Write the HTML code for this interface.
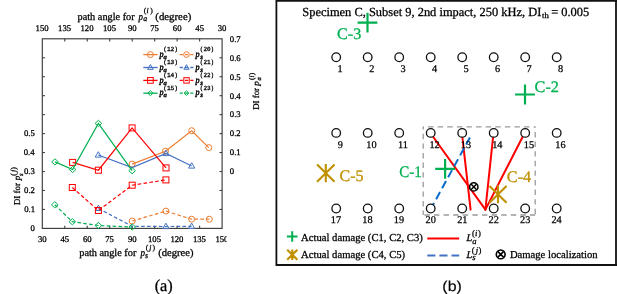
<!DOCTYPE html>
<html><head><meta charset="utf-8"><style>
html,body{margin:0;padding:0;background:#fff;}
svg{display:block;will-change:transform;}
text{stroke:#000;stroke-width:0.28px;}
text.g{stroke:#00B050;}
text.y{stroke:#BF9000;}
text.n{stroke-width:0.25px;}
text.nb{stroke-width:0.15px;}
text.lg{stroke-width:0.45px;}
</style></head><body>
<svg width="617" height="294" viewBox="0 0 617 294" text-rendering="geometricPrecision">
<rect width="617" height="294" fill="#fff"/>
<rect x="42.3" y="38.8" width="179.80" height="189.60" fill="none" stroke="#3c3c3c" stroke-width="1.15"/>
<line x1="64.78" y1="228.4" x2="64.78" y2="225.8" stroke="#3c3c3c" stroke-width="1.1"/>
<line x1="64.78" y1="38.8" x2="64.78" y2="41.4" stroke="#3c3c3c" stroke-width="1.1"/>
<line x1="87.25" y1="228.4" x2="87.25" y2="225.8" stroke="#3c3c3c" stroke-width="1.1"/>
<line x1="87.25" y1="38.8" x2="87.25" y2="41.4" stroke="#3c3c3c" stroke-width="1.1"/>
<line x1="109.73" y1="228.4" x2="109.73" y2="225.8" stroke="#3c3c3c" stroke-width="1.1"/>
<line x1="109.73" y1="38.8" x2="109.73" y2="41.4" stroke="#3c3c3c" stroke-width="1.1"/>
<line x1="132.20" y1="228.4" x2="132.20" y2="225.8" stroke="#3c3c3c" stroke-width="1.1"/>
<line x1="132.20" y1="38.8" x2="132.20" y2="41.4" stroke="#3c3c3c" stroke-width="1.1"/>
<line x1="154.68" y1="228.4" x2="154.68" y2="225.8" stroke="#3c3c3c" stroke-width="1.1"/>
<line x1="154.68" y1="38.8" x2="154.68" y2="41.4" stroke="#3c3c3c" stroke-width="1.1"/>
<line x1="177.15" y1="228.4" x2="177.15" y2="225.8" stroke="#3c3c3c" stroke-width="1.1"/>
<line x1="177.15" y1="38.8" x2="177.15" y2="41.4" stroke="#3c3c3c" stroke-width="1.1"/>
<line x1="199.62" y1="228.4" x2="199.62" y2="225.8" stroke="#3c3c3c" stroke-width="1.1"/>
<line x1="199.62" y1="38.8" x2="199.62" y2="41.4" stroke="#3c3c3c" stroke-width="1.1"/>
<line x1="42.3" y1="209.44" x2="44.9" y2="209.44" stroke="#3c3c3c" stroke-width="1.1"/>
<line x1="222.1" y1="209.44" x2="219.5" y2="209.44" stroke="#3c3c3c" stroke-width="1.1"/>
<line x1="42.3" y1="190.48" x2="44.9" y2="190.48" stroke="#3c3c3c" stroke-width="1.1"/>
<line x1="222.1" y1="190.48" x2="219.5" y2="190.48" stroke="#3c3c3c" stroke-width="1.1"/>
<line x1="42.3" y1="171.52" x2="44.9" y2="171.52" stroke="#3c3c3c" stroke-width="1.1"/>
<line x1="222.1" y1="171.52" x2="219.5" y2="171.52" stroke="#3c3c3c" stroke-width="1.1"/>
<line x1="42.3" y1="152.56" x2="44.9" y2="152.56" stroke="#3c3c3c" stroke-width="1.1"/>
<line x1="222.1" y1="152.56" x2="219.5" y2="152.56" stroke="#3c3c3c" stroke-width="1.1"/>
<line x1="42.3" y1="133.60" x2="44.9" y2="133.60" stroke="#3c3c3c" stroke-width="1.1"/>
<line x1="222.1" y1="133.60" x2="219.5" y2="133.60" stroke="#3c3c3c" stroke-width="1.1"/>
<line x1="42.3" y1="114.64" x2="44.9" y2="114.64" stroke="#3c3c3c" stroke-width="1.1"/>
<line x1="222.1" y1="114.64" x2="219.5" y2="114.64" stroke="#3c3c3c" stroke-width="1.1"/>
<line x1="42.3" y1="95.68" x2="44.9" y2="95.68" stroke="#3c3c3c" stroke-width="1.1"/>
<line x1="222.1" y1="95.68" x2="219.5" y2="95.68" stroke="#3c3c3c" stroke-width="1.1"/>
<line x1="42.3" y1="76.72" x2="44.9" y2="76.72" stroke="#3c3c3c" stroke-width="1.1"/>
<line x1="222.1" y1="76.72" x2="219.5" y2="76.72" stroke="#3c3c3c" stroke-width="1.1"/>
<line x1="42.3" y1="57.76" x2="44.9" y2="57.76" stroke="#3c3c3c" stroke-width="1.1"/>
<line x1="222.1" y1="57.76" x2="219.5" y2="57.76" stroke="#3c3c3c" stroke-width="1.1"/>
<text x="35.58" y="31.00" font-size="8.7" font-family="Liberation Serif">150</text>
<text x="37.93" y="242.00" font-size="8.7" font-family="Liberation Serif">30</text>
<text x="58.05" y="31.00" font-size="8.7" font-family="Liberation Serif">135</text>
<text x="60.51" y="242.00" font-size="8.7" font-family="Liberation Serif">45</text>
<text x="80.53" y="31.00" font-size="8.7" font-family="Liberation Serif">120</text>
<text x="82.90" y="242.00" font-size="8.7" font-family="Liberation Serif">60</text>
<text x="103.00" y="31.00" font-size="8.7" font-family="Liberation Serif">105</text>
<text x="105.27" y="242.00" font-size="8.7" font-family="Liberation Serif">75</text>
<text x="127.89" y="31.00" font-size="8.7" font-family="Liberation Serif">90</text>
<text x="127.89" y="242.00" font-size="8.7" font-family="Liberation Serif">90</text>
<text x="150.22" y="31.00" font-size="8.7" font-family="Liberation Serif">75</text>
<text x="147.95" y="242.00" font-size="8.7" font-family="Liberation Serif">105</text>
<text x="172.80" y="31.00" font-size="8.7" font-family="Liberation Serif">60</text>
<text x="170.43" y="242.00" font-size="8.7" font-family="Liberation Serif">120</text>
<text x="195.36" y="31.00" font-size="8.7" font-family="Liberation Serif">45</text>
<text x="192.90" y="242.00" font-size="8.7" font-family="Liberation Serif">135</text>
<text x="217.73" y="31.00" font-size="8.7" font-family="Liberation Serif">30</text>
<text x="215.38" y="242.00" font-size="8.7" font-family="Liberation Serif">150</text>
<rect x="226.6" y="233" width="8" height="12" fill="#fff"/>
<text x="30.50" y="231.25" font-size="8.7" font-family="Liberation Serif">0</text>
<text x="24.15" y="212.29" font-size="8.7" font-family="Liberation Serif">0.1</text>
<text x="24.10" y="193.33" font-size="8.7" font-family="Liberation Serif">0.2</text>
<text x="23.97" y="174.37" font-size="8.7" font-family="Liberation Serif">0.3</text>
<text x="23.76" y="155.41" font-size="8.7" font-family="Liberation Serif">0.4</text>
<text x="23.97" y="136.45" font-size="8.7" font-family="Liberation Serif">0.5</text>
<text x="229.85" y="174.37" font-size="8.7" font-family="Liberation Serif">0</text>
<text x="229.85" y="155.41" font-size="8.7" font-family="Liberation Serif">0.1</text>
<text x="229.85" y="136.45" font-size="8.7" font-family="Liberation Serif">0.2</text>
<text x="229.85" y="117.49" font-size="8.7" font-family="Liberation Serif">0.3</text>
<text x="229.85" y="98.53" font-size="8.7" font-family="Liberation Serif">0.4</text>
<text x="229.85" y="79.57" font-size="8.7" font-family="Liberation Serif">0.5</text>
<text x="229.85" y="60.61" font-size="8.7" font-family="Liberation Serif">0.6</text>
<text x="229.85" y="41.65" font-size="8.7" font-family="Liberation Serif">0.7</text>
<text transform="translate(77.55,19.50) scale(0.985,1)" font-size="10.45" font-family="Liberation Serif">path angle for</text>
<text transform="translate(138.43,19.50) scale(0.849,1)" font-size="10.45" font-family="Liberation Serif" font-style="italic">p</text>
<text x="143.27" y="20.90" font-size="7.8" font-family="Liberation Serif" font-style="italic">a</text>
<text x="143.86" y="13.00" font-size="7.6" font-family="Liberation Serif">(</text>
<text x="146.48" y="13.00" font-size="7.6" font-family="Liberation Serif" font-style="italic">i</text>
<text x="150.37" y="13.00" font-size="7.6" font-family="Liberation Serif">)</text>
<text transform="translate(155.31,19.50) scale(1.035,1)" font-size="10.45" font-family="Liberation Serif">(degree)</text>
<text transform="translate(79.25,255.60) scale(0.985,1)" font-size="10.45" font-family="Liberation Serif">path angle for</text>
<text transform="translate(140.54,255.60) scale(0.867,1)" font-size="10.45" font-family="Liberation Serif" font-style="italic">p</text>
<text x="144.92" y="258.10" font-size="7.8" font-family="Liberation Serif" font-style="italic">s</text>
<text x="145.66" y="250.10" font-size="7.6" font-family="Liberation Serif">(</text>
<text x="149.20" y="250.10" font-size="7.6" font-family="Liberation Serif" font-style="italic">j</text>
<text x="152.47" y="250.10" font-size="7.6" font-family="Liberation Serif">)</text>
<text transform="translate(158.22,255.60) scale(1.017,1)" font-size="10.45" font-family="Liberation Serif">(degree)</text>
<g transform="translate(20.4,204.8) rotate(-90)">
<text transform="translate(-0.27,0.00) scale(0.986,1)" font-size="9.0" font-family="Liberation Serif">DI for</text>
<text x="24.44" y="0.00" font-size="9.0" font-family="Liberation Serif" font-style="italic">p</text>
<text x="28.73" y="2.20" font-size="6.6" font-family="Liberation Serif" font-style="italic">s</text>
<text x="29.15" y="-4.40" font-size="7.8" font-family="Liberation Serif">(</text>
<text x="32.82" y="-4.40" font-size="7.8" font-family="Liberation Serif" font-style="italic">j</text>
<text x="35.07" y="-4.40" font-size="7.8" font-family="Liberation Serif">)</text>
</g>
<g transform="translate(259.1,109.5) rotate(-90)">
<text transform="translate(-0.26,0.00) scale(0.977,1)" font-size="9.0" font-family="Liberation Serif">DI for</text>
<text x="23.74" y="0.00" font-size="9.0" font-family="Liberation Serif" font-style="italic">p</text>
<text x="29.10" y="1.50" font-size="6.6" font-family="Liberation Serif" font-style="italic">a</text>
<text x="29.47" y="-5.30" font-size="7.4" font-family="Liberation Serif">(</text>
<text x="31.99" y="-5.30" font-size="7.4" font-family="Liberation Serif" font-style="italic">i</text>
<text x="34.38" y="-5.30" font-size="7.4" font-family="Liberation Serif">)</text>
</g>
<path d="M132.2 221 L165.9 211.1 L191.6 219.2 L209.3 219.2" fill="none" stroke="#ED7D31" stroke-width="1.2" stroke-dasharray="3.6 2.3"/>
<circle cx="132.2" cy="221" r="3.00" fill="none" stroke="#ED7D31" stroke-width="1"/>
<circle cx="165.9" cy="211.1" r="3.00" fill="none" stroke="#ED7D31" stroke-width="1"/>
<circle cx="191.6" cy="219.2" r="3.00" fill="none" stroke="#ED7D31" stroke-width="1"/>
<circle cx="209.3" cy="219.2" r="3.00" fill="none" stroke="#ED7D31" stroke-width="1"/>
<path d="M98.4 208.4 L132.2 226.3 L165.9 226.5 L191.6 226.4" fill="none" stroke="#4472C4" stroke-width="1.2" stroke-dasharray="3.6 2.3"/>
<path d="M98.4 205.10L101.50 210.50L95.30 210.50Z" fill="none" stroke="#4472C4" stroke-width="1"/>
<path d="M165.9 223.20L169.00 228.60L162.80 228.60Z" fill="none" stroke="#4472C4" stroke-width="1"/>
<path d="M191.6 223.10L194.70 228.50L188.50 228.50Z" fill="none" stroke="#4472C4" stroke-width="1"/>
<path d="M72.3 187.5 L98.4 210.5 L132.2 185.2 L165.9 179.9" fill="none" stroke="#FF0000" stroke-width="1.2" stroke-dasharray="3.6 2.3"/>
<rect x="69.30" y="184.50" width="6.00" height="6.00" fill="none" stroke="#FF0000" stroke-width="1"/>
<rect x="95.40" y="207.50" width="6.00" height="6.00" fill="none" stroke="#FF0000" stroke-width="1"/>
<rect x="129.20" y="182.20" width="6.00" height="6.00" fill="none" stroke="#FF0000" stroke-width="1"/>
<rect x="162.90" y="176.90" width="6.00" height="6.00" fill="none" stroke="#FF0000" stroke-width="1"/>
<path d="M54.8 204.8 L72.3 221.7 L98.4 225.5 L132.2 227" fill="none" stroke="#00B050" stroke-width="1.2" stroke-dasharray="3.6 2.3"/>
<path d="M54.8 201.70L58.10 204.8L54.8 207.90L51.50 204.8Z" fill="none" stroke="#00B050" stroke-width="1"/>
<path d="M72.3 218.60L75.60 221.7L72.3 224.80L69.00 221.7Z" fill="none" stroke="#00B050" stroke-width="1"/>
<path d="M98.4 222.40L101.70 225.5L98.4 228.60L95.10 225.5Z" fill="none" stroke="#00B050" stroke-width="1"/>
<path d="M132.2 223.90L135.50 227L132.2 230.10L128.90 227Z" fill="none" stroke="#00B050" stroke-width="1"/>
<path d="M132.1 164.1 L165.5 151.2 L191.7 130.7 L208.8 147.6" fill="none" stroke="#ED7D31" stroke-width="1.2"/>
<circle cx="132.1" cy="164.1" r="3.00" fill="none" stroke="#ED7D31" stroke-width="1"/>
<circle cx="165.5" cy="151.2" r="3.00" fill="none" stroke="#ED7D31" stroke-width="1"/>
<circle cx="191.7" cy="130.7" r="3.00" fill="none" stroke="#ED7D31" stroke-width="1"/>
<circle cx="208.8" cy="147.6" r="3.00" fill="none" stroke="#ED7D31" stroke-width="1"/>
<path d="M98.3 155 L132.1 167.6 L166 153.5 L191.7 166" fill="none" stroke="#4472C4" stroke-width="1.2"/>
<path d="M98.3 151.70L101.40 157.10L95.20 157.10Z" fill="none" stroke="#4472C4" stroke-width="1"/>
<path d="M166 150.20L169.10 155.60L162.90 155.60Z" fill="none" stroke="#4472C4" stroke-width="1"/>
<path d="M191.7 162.70L194.80 168.10L188.60 168.10Z" fill="none" stroke="#4472C4" stroke-width="1"/>
<path d="M72.6 162.4 L98.4 170.2 L132.1 127.9 L166 167.9" fill="none" stroke="#FF0000" stroke-width="1.2"/>
<rect x="69.60" y="159.40" width="6.00" height="6.00" fill="none" stroke="#FF0000" stroke-width="1"/>
<rect x="95.40" y="167.20" width="6.00" height="6.00" fill="none" stroke="#FF0000" stroke-width="1"/>
<rect x="129.10" y="124.90" width="6.00" height="6.00" fill="none" stroke="#FF0000" stroke-width="1"/>
<rect x="163.00" y="164.90" width="6.00" height="6.00" fill="none" stroke="#FF0000" stroke-width="1"/>
<path d="M55 161.9 L72.6 169.5 L98.4 123.4 L132.1 170.7" fill="none" stroke="#00B050" stroke-width="1.2"/>
<path d="M55 158.80L58.30 161.9L55 165.00L51.70 161.9Z" fill="none" stroke="#00B050" stroke-width="1"/>
<path d="M72.6 166.40L75.90 169.5L72.6 172.60L69.30 169.5Z" fill="none" stroke="#00B050" stroke-width="1"/>
<path d="M98.4 120.30L101.70 123.4L98.4 126.50L95.10 123.4Z" fill="none" stroke="#00B050" stroke-width="1"/>
<path d="M132.1 167.60L135.40 170.7L132.1 173.80L128.80 170.7Z" fill="none" stroke="#00B050" stroke-width="1"/>
<line x1="143.3" y1="54.6" x2="157.6" y2="54.6" stroke="#ED7D31" stroke-width="1.3"/>
<circle cx="150.4" cy="54.6" r="3.00" fill="none" stroke="#ED7D31" stroke-width="1"/>
<line x1="179.7" y1="54.6" x2="193.4" y2="54.6" stroke="#ED7D31" stroke-width="1.3" stroke-dasharray="3.1 2.2"/>
<circle cx="186.5" cy="54.6" r="2.85" fill="none" stroke="#ED7D31" stroke-width="1"/>
<text transform="translate(159.39,56.80) scale(0.882,1)" font-size="9.2" font-family="Liberation Serif" font-style="italic" class="lg">p</text>
<text x="163.50" y="58.70" font-size="6.6" font-family="Liberation Serif" font-style="italic" class="lg">a</text>
<text transform="translate(163.18,51.30) scale(0.997,1)" font-size="6.2" font-family="Liberation Mono">(12)</text>
<text transform="translate(195.59,56.80) scale(0.882,1)" font-size="9.2" font-family="Liberation Serif" font-style="italic" class="lg">p</text>
<text x="200.13" y="58.70" font-size="6.8" font-family="Liberation Serif" font-style="italic" class="lg">s</text>
<text transform="translate(199.82,51.30) scale(0.958,1)" font-size="6.2" font-family="Liberation Mono">(20)</text>
<line x1="143.3" y1="67.5" x2="157.6" y2="67.5" stroke="#4472C4" stroke-width="1.3"/>
<path d="M150.4 64.53L153.19 69.39L147.61 69.39Z" fill="none" stroke="#4472C4" stroke-width="1"/>
<line x1="179.7" y1="67.5" x2="193.4" y2="67.5" stroke="#4472C4" stroke-width="1.3" stroke-dasharray="3.1 2.2"/>
<path d="M186.5 64.69L189.13 69.28L183.87 69.28Z" fill="none" stroke="#4472C4" stroke-width="1"/>
<text transform="translate(159.39,69.70) scale(0.882,1)" font-size="9.2" font-family="Liberation Serif" font-style="italic" class="lg">p</text>
<text x="163.50" y="71.60" font-size="6.6" font-family="Liberation Serif" font-style="italic" class="lg">a</text>
<text transform="translate(163.18,64.20) scale(0.997,1)" font-size="6.2" font-family="Liberation Mono">(13)</text>
<text transform="translate(195.59,69.70) scale(0.882,1)" font-size="9.2" font-family="Liberation Serif" font-style="italic" class="lg">p</text>
<text x="200.13" y="71.60" font-size="6.8" font-family="Liberation Serif" font-style="italic" class="lg">s</text>
<text transform="translate(199.82,64.20) scale(0.958,1)" font-size="6.2" font-family="Liberation Mono">(21)</text>
<line x1="143.3" y1="80.4" x2="157.6" y2="80.4" stroke="#FF0000" stroke-width="1.3"/>
<rect x="147.55" y="77.55" width="5.70" height="5.70" fill="none" stroke="#FF0000" stroke-width="1"/>
<line x1="179.7" y1="80.4" x2="193.4" y2="80.4" stroke="#FF0000" stroke-width="1.3" stroke-dasharray="3.1 2.2"/>
<rect x="183.80" y="77.70" width="5.40" height="5.40" fill="none" stroke="#FF0000" stroke-width="1"/>
<text transform="translate(159.39,82.60) scale(0.882,1)" font-size="9.2" font-family="Liberation Serif" font-style="italic" class="lg">p</text>
<text x="163.50" y="84.50" font-size="6.6" font-family="Liberation Serif" font-style="italic" class="lg">a</text>
<text transform="translate(163.18,77.10) scale(0.997,1)" font-size="6.2" font-family="Liberation Mono">(14)</text>
<text transform="translate(195.59,82.60) scale(0.882,1)" font-size="9.2" font-family="Liberation Serif" font-style="italic" class="lg">p</text>
<text x="200.13" y="84.50" font-size="6.8" font-family="Liberation Serif" font-style="italic" class="lg">s</text>
<text transform="translate(199.82,77.10) scale(0.958,1)" font-size="6.2" font-family="Liberation Mono">(22)</text>
<line x1="143.3" y1="93.2" x2="157.6" y2="93.2" stroke="#00B050" stroke-width="1.3"/>
<path d="M150.4 90.72L153.04 93.2L150.4 95.68L147.76 93.2Z" fill="none" stroke="#00B050" stroke-width="1"/>
<line x1="179.7" y1="93.2" x2="193.4" y2="93.2" stroke="#00B050" stroke-width="1.3" stroke-dasharray="3.1 2.2"/>
<path d="M186.5 90.88L188.97 93.2L186.5 95.53L184.03 93.2Z" fill="none" stroke="#00B050" stroke-width="1"/>
<text transform="translate(159.39,95.40) scale(0.882,1)" font-size="9.2" font-family="Liberation Serif" font-style="italic" class="lg">p</text>
<text x="163.50" y="97.30" font-size="6.6" font-family="Liberation Serif" font-style="italic" class="lg">a</text>
<text transform="translate(163.18,89.90) scale(0.997,1)" font-size="6.2" font-family="Liberation Mono">(15)</text>
<text transform="translate(195.59,95.40) scale(0.882,1)" font-size="9.2" font-family="Liberation Serif" font-style="italic" class="lg">p</text>
<text x="200.13" y="97.30" font-size="6.8" font-family="Liberation Serif" font-style="italic" class="lg">s</text>
<text transform="translate(199.82,89.90) scale(0.958,1)" font-size="6.2" font-family="Liberation Mono">(23)</text>
<text transform="translate(154.66,290.50) scale(0.975,1)" font-size="16.8" font-family="Liberation Serif">(a)</text>
<path d="M275.5 0.75H617M276.4 0V266M616 0V266M275.5 265H617" fill="none" stroke="#111" stroke-width="1.8"/>
<text x="302.29" y="15.90" font-size="12.45" font-family="Liberation Serif">Specimen C, Subset 9, 2nd impact, 250 kHz, DI</text>
<text transform="translate(542.01,18.40) scale(1.133,1)" font-size="7.6" font-family="Liberation Serif">th</text>
<text transform="translate(551.18,15.90) scale(0.996,1)" font-size="12.45" font-family="Liberation Serif">= 0.005</text>
<line x1="423.2" y1="126.8" x2="535.2" y2="126.8" stroke="#9a9a9a" stroke-width="1.3" stroke-dasharray="5.4 4.2" stroke-dashoffset="4.7"/>
<line x1="423.2" y1="126.8" x2="423.2" y2="215" stroke="#9a9a9a" stroke-width="1.3" stroke-dasharray="5.4 4.2" stroke-dashoffset="2.6"/>
<line x1="535.2" y1="126.8" x2="535.2" y2="215" stroke="#9a9a9a" stroke-width="1.3" stroke-dasharray="5.4 4.2" stroke-dashoffset="4.4"/>
<line x1="423.2" y1="215" x2="535.2" y2="215" stroke="#9a9a9a" stroke-width="1.3" stroke-dasharray="5.4 4.2" stroke-dashoffset="8.4"/>
<line x1="430.4" y1="133" x2="485.4" y2="209.6" stroke="#FF0000" stroke-width="2.0" stroke-linecap="round"/>
<line x1="461.9" y1="133" x2="470.6" y2="209.6" stroke="#FF0000" stroke-width="2.0" stroke-linecap="round"/>
<line x1="493.5" y1="133" x2="485.4" y2="209.6" stroke="#FF0000" stroke-width="2.0" stroke-linecap="round"/>
<line x1="524.6" y1="133" x2="485.4" y2="209.6" stroke="#FF0000" stroke-width="2.0" stroke-linecap="round"/>
<line x1="469.9" y1="137.5" x2="432.4" y2="206" stroke="#0A6BC8" stroke-width="2" stroke-dasharray="8.2 4.3" stroke-dashoffset="0.3"/>
<circle cx="336.2" cy="57.25" r="4.3" fill="#fff" stroke="#111" stroke-width="1.3"/>
<text x="337.50" y="72.00" font-size="10.3" font-family="Liberation Serif" class="n">1</text>
<circle cx="367.7" cy="57.25" r="4.3" fill="#fff" stroke="#111" stroke-width="1.3"/>
<text x="369.18" y="72.00" font-size="10.3" font-family="Liberation Serif" class="n">2</text>
<circle cx="399.2" cy="57.25" r="4.3" fill="#fff" stroke="#111" stroke-width="1.3"/>
<text x="400.60" y="72.00" font-size="10.3" font-family="Liberation Serif" class="n">3</text>
<circle cx="430.7" cy="57.25" r="4.3" fill="#fff" stroke="#111" stroke-width="1.3"/>
<text x="432.10" y="72.00" font-size="10.3" font-family="Liberation Serif" class="n">4</text>
<circle cx="462.2" cy="57.25" r="4.3" fill="#fff" stroke="#111" stroke-width="1.3"/>
<text x="463.52" y="72.00" font-size="10.3" font-family="Liberation Serif" class="n">5</text>
<circle cx="493.7" cy="57.25" r="4.3" fill="#fff" stroke="#111" stroke-width="1.3"/>
<text x="495.07" y="72.00" font-size="10.3" font-family="Liberation Serif" class="n">6</text>
<circle cx="525.2" cy="57.25" r="4.3" fill="#fff" stroke="#111" stroke-width="1.3"/>
<text x="526.44" y="72.00" font-size="10.3" font-family="Liberation Serif" class="n">7</text>
<circle cx="556.7" cy="57.25" r="4.3" fill="#fff" stroke="#111" stroke-width="1.3"/>
<text x="558.12" y="72.00" font-size="10.3" font-family="Liberation Serif" class="n">8</text>
<circle cx="336.2" cy="132.9" r="4.3" fill="#fff" stroke="#111" stroke-width="1.3"/>
<text x="337.68" y="148.00" font-size="10.3" font-family="Liberation Serif" class="n">9</text>
<circle cx="367.7" cy="132.9" r="4.3" fill="#fff" stroke="#111" stroke-width="1.3"/>
<text x="366.32" y="148.00" font-size="10.3" font-family="Liberation Serif" class="n">10</text>
<circle cx="399.2" cy="132.9" r="4.3" fill="#fff" stroke="#111" stroke-width="1.3"/>
<text x="398.10" y="148.00" font-size="10.3" font-family="Liberation Serif" class="n">11</text>
<circle cx="430.7" cy="132.9" r="4.3" fill="#fff" stroke="#111" stroke-width="1.3"/>
<text x="429.40" y="148.00" font-size="10.3" font-family="Liberation Serif" class="n">12</text>
<circle cx="462.2" cy="132.9" r="4.3" fill="#fff" stroke="#111" stroke-width="1.3"/>
<text x="460.82" y="148.00" font-size="10.3" font-family="Liberation Serif" class="n">13</text>
<circle cx="493.7" cy="132.9" r="4.3" fill="#fff" stroke="#111" stroke-width="1.3"/>
<text x="492.19" y="148.00" font-size="10.3" font-family="Liberation Serif" class="n">14</text>
<circle cx="525.2" cy="132.9" r="4.3" fill="#fff" stroke="#111" stroke-width="1.3"/>
<text x="523.82" y="148.00" font-size="10.3" font-family="Liberation Serif" class="n">15</text>
<circle cx="556.7" cy="132.9" r="4.3" fill="#fff" stroke="#111" stroke-width="1.3"/>
<text x="555.27" y="148.00" font-size="10.3" font-family="Liberation Serif" class="n">16</text>
<circle cx="336.2" cy="208.5" r="4.3" fill="#fff" stroke="#111" stroke-width="1.3"/>
<text x="330.77" y="222.50" font-size="10.3" font-family="Liberation Serif" class="n">17</text>
<circle cx="367.7" cy="208.5" r="4.3" fill="#fff" stroke="#111" stroke-width="1.3"/>
<text x="362.32" y="222.50" font-size="10.3" font-family="Liberation Serif" class="n">18</text>
<circle cx="399.2" cy="208.5" r="4.3" fill="#fff" stroke="#111" stroke-width="1.3"/>
<text x="393.82" y="222.50" font-size="10.3" font-family="Liberation Serif" class="n">19</text>
<circle cx="430.7" cy="208.5" r="4.3" fill="#fff" stroke="#111" stroke-width="1.3"/>
<text x="425.52" y="222.50" font-size="10.3" font-family="Liberation Serif" class="n">20</text>
<circle cx="462.2" cy="208.5" r="4.3" fill="#fff" stroke="#111" stroke-width="1.3"/>
<text x="457.13" y="222.50" font-size="10.3" font-family="Liberation Serif" class="n">21</text>
<circle cx="493.7" cy="208.5" r="4.3" fill="#fff" stroke="#111" stroke-width="1.3"/>
<text x="488.60" y="222.50" font-size="10.3" font-family="Liberation Serif" class="n">22</text>
<circle cx="525.2" cy="208.5" r="4.3" fill="#fff" stroke="#111" stroke-width="1.3"/>
<text x="520.02" y="222.50" font-size="10.3" font-family="Liberation Serif" class="n">23</text>
<circle cx="556.7" cy="208.5" r="4.3" fill="#fff" stroke="#111" stroke-width="1.3"/>
<text x="551.40" y="222.50" font-size="10.3" font-family="Liberation Serif" class="n">24</text>
<circle cx="473.8" cy="186.9" r="4.15" fill="#fff" stroke="#000" stroke-width="1.5"/><path d="M470.978 184.078L476.622 189.722M476.622 184.078L470.978 189.722" stroke="#000" stroke-width="1.5"/>
<path d="M435.20000000000005 168.8H455.0M445.1 158.9V178.70000000000002" stroke="#00B050" stroke-width="2.2"/>
<path d="M357.6 22.6H377.4M367.5 12.700000000000001V32.5" stroke="#00B050" stroke-width="2.2"/>
<path d="M515.1 94.5H534.9M525 84.6V104.4" stroke="#00B050" stroke-width="2.2"/>
<path d="M325.8 164.0V182.2M317.064 164.45499999999998L334.536 181.745M334.536 164.45499999999998L317.064 181.745" stroke="#BF9000" stroke-width="2.1"/>
<path d="M498 185.5V203.3M489.456 185.945L506.544 202.85500000000002M506.544 185.945L489.456 202.85500000000002" stroke="#BF9000" stroke-width="2.1"/>
<text transform="translate(399.20,176.60) scale(0.936,1)" font-size="16.1" font-family="Liberation Serif" class="g" fill="#00B050">C-1</text>
<text transform="translate(534.55,91.50) scale(1.012,1)" font-size="16.1" font-family="Liberation Serif" class="g" fill="#00B050">C-2</text>
<text transform="translate(337.05,39.30) scale(1.002,1)" font-size="16.1" font-family="Liberation Serif" class="g" fill="#00B050">C-3</text>
<text transform="translate(506.85,181.70) scale(1.010,1)" font-size="16.1" font-family="Liberation Serif" class="y" fill="#BF9000">C-4</text>
<text transform="translate(339.46,181.20) scale(0.997,1)" font-size="16.1" font-family="Liberation Serif" class="y" fill="#BF9000">C-5</text>
<path d="M286.9 236.5H297.5M292.2 231.2V241.8" stroke="#00B050" stroke-width="2.0"/>
<path d="M292.3 249.39999999999998V260.0M287.212 249.665L297.38800000000003 259.735M297.38800000000003 249.665L287.212 259.735" stroke="#BF9000" stroke-width="2.2"/>
<text x="301.09" y="240.50" font-size="10.65" font-family="Liberation Serif">Actual damage (C1, C2, C3)</text>
<text x="301.09" y="257.80" font-size="10.65" font-family="Liberation Serif">Actual damage (C4, C5)</text>
<line x1="427.3" y1="238.5" x2="459.2" y2="238.5" stroke="#FF0000" stroke-width="2"/>
<line x1="427.3" y1="255.5" x2="459.2" y2="255.5" stroke="#4472C4" stroke-width="2.1" stroke-dasharray="8.1 4"/>
<text x="466.50" y="241.40" font-size="10.4" font-family="Liberation Serif" font-style="italic">L</text>
<text x="472.34" y="243.60" font-size="8.6" font-family="Liberation Serif" font-style="italic">a</text>
<text x="472.01" y="236.20" font-size="8.6" font-family="Liberation Serif">(</text>
<text x="474.93" y="236.20" font-size="8.6" font-family="Liberation Serif" font-style="italic">i</text>
<text x="477.94" y="236.20" font-size="8.6" font-family="Liberation Serif">)</text>
<text x="466.50" y="258.10" font-size="10.4" font-family="Liberation Serif" font-style="italic">L</text>
<text x="472.31" y="260.30" font-size="8.6" font-family="Liberation Serif" font-style="italic">s</text>
<text x="471.71" y="253.30" font-size="8.6" font-family="Liberation Serif">(</text>
<text x="475.80" y="253.30" font-size="8.6" font-family="Liberation Serif" font-style="italic">j</text>
<text x="478.44" y="253.30" font-size="8.6" font-family="Liberation Serif">)</text>
<circle cx="500.7" cy="254.4" r="4.4" fill="#fff" stroke="#000" stroke-width="1.6"/><path d="M497.70799999999997 251.40800000000002L503.692 257.392M503.692 251.40800000000002L497.70799999999997 257.392" stroke="#000" stroke-width="1.6"/>
<text x="509.88" y="258.10" font-size="10.65" font-family="Liberation Serif">Damage localization</text>
<text transform="translate(442.35,290.70) scale(1.097,1)" font-size="14.5" font-family="Liberation Sans" class="nb">(b)</text>
</svg>
</body></html>
